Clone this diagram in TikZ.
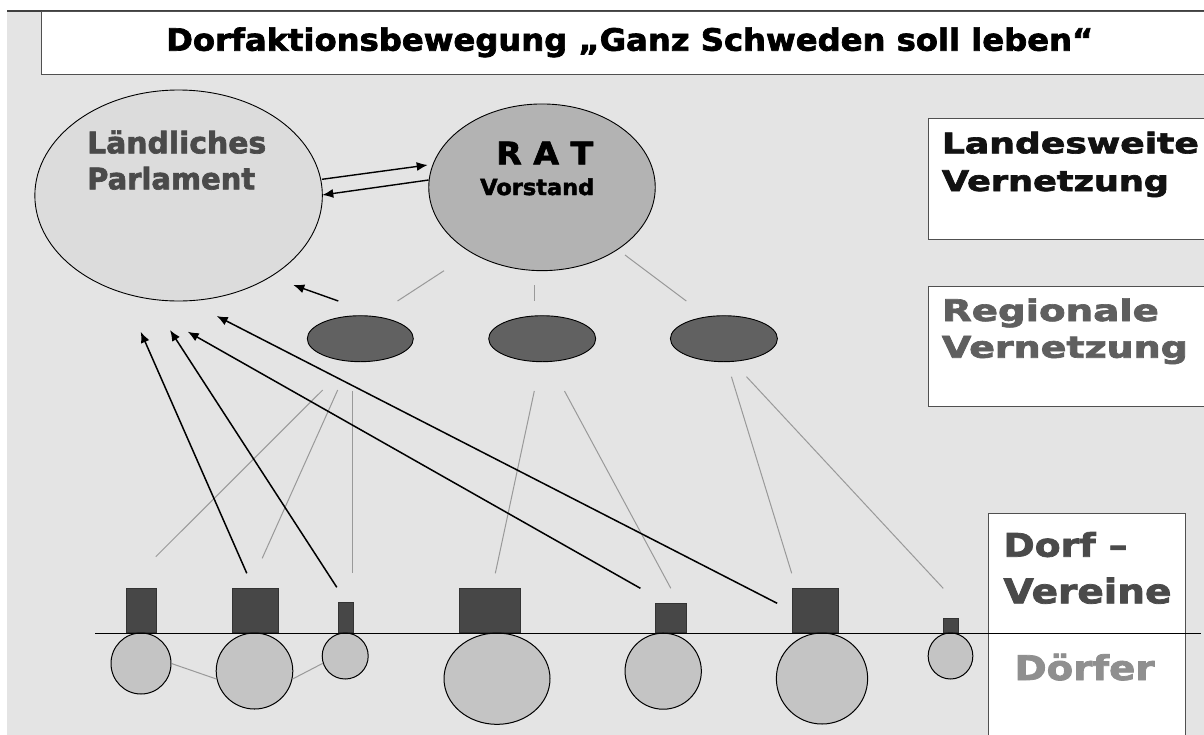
\documentclass[tikz,border=0pt]{standalone}
\usepackage{graphicx}
\usepackage{fontspec}
\setmainfont{DejaVu Sans}
\newfontfamily\heavyfont{DejaVu Sans Bold}[FakeBold=2.2]
\usetikzlibrary{shapes.geometric,arrows.meta}
\definecolor{bgc}{HTML}{E4E4E4}
\definecolor{parlc}{HTML}{DCDCDC}
\definecolor{ratc}{HTML}{B3B3B3}
\definecolor{regc}{HTML}{616161}
\definecolor{vboxc}{HTML}{474747}
\definecolor{dorfc}{HTML}{C4C4C4}
\definecolor{linec}{HTML}{999999}
\definecolor{frame}{HTML}{505050}
\definecolor{txtdark}{HTML}{4A4A4A}
\definecolor{txtreg}{HTML}{5F5F5F}
\definecolor{txtlight}{HTML}{8F8F8F}
\newbox\wtbox
\newcommand\wtext[3]{\begingroup\setbox\wtbox=\hbox{\heavyfont\fontsize{#2}{#2}\selectfont #3}%
\pgfmathsetmacro\wtratio{#1/\the\wd\wtbox}%
\scalebox{\wtratio}[1]{\usebox\wtbox}\endgroup}
\begin{document}
\begin{tikzpicture}[x=1pt,y=-1pt,
  labelbox/.style={draw=frame, fill=white, line width=1, inner sep=0, anchor=north west},
  oval/.style={ellipse, draw=black, line width=0.9, inner sep=0},
  dorf/.style={ellipse, draw=black, line width=1, fill=dorfc, inner sep=0},
  verein/.style={rectangle, draw=black!80, line width=0.6, fill=vboxc, inner sep=0, anchor=south west},
  txt/.style={anchor=base west, inner sep=0},
  thin/.style={draw=linec, line width=1},
  flow/.style={draw=black, line width=1.5, -{Latex[length=11pt,width=9pt]}}]
\useasboundingbox (0,0) rectangle (1204,734);
\clip (0,0) rectangle (1204,734);
\fill[bgc] (7,11) rectangle (1210,740);
\draw[line width=1.6, draw=black!75] (7,11) -- (1210,11);
% title
\node[labelbox, minimum width=1200, minimum height=63] (titlebox) at (40.5,11) {};
\node[txt] (title) at (166,50.7) {\wtext{927}{30.7}{Dorfaktionsbewegung „Ganz Schweden soll leben“}};
% right label boxes
\node[labelbox, minimum width=300, minimum height=120.7] (landesbox) at (927.7,118.3) {};
\node[labelbox, minimum width=300, minimum height=120.6] (regbox) at (927.7,285.7) {};
\node[labelbox, minimum width=196.7, minimum height=240] (dorfbox) at (988.3,512.7) {};
\node[txt, text=black!93] (landes1) at (941.7,153.3) {\wtext{257}{28.4}{Landesweite}};
\node[txt, text=black!93] (landes2) at (941.7,191) {\wtext{227}{28.4}{Vernetzung}};
\node[txt, text=txtreg] (reg1) at (941.7,321) {\wtext{217}{29.8}{Regionale}};
\node[txt, text=txtreg] (reg2) at (941.7,357.7) {\wtext{246}{29.8}{Vernetzung}};
\node[txt, text=txtdark] (dorf1) at (1003.3,556.7) {\wtext{124}{32.5}{Dorf –}};
\node[txt, text=txtdark] (dorf2) at (1003.3,603.3) {\wtext{168}{34}{Vereine}};
\node[txt, text=txtlight] (dorf3) at (1014.3,680) {\wtext{140}{34}{Dörfer}};
% big ellipses
\node[oval, fill=parlc, minimum width=287.5, minimum height=211] (parl) at (178.6,195.5) {};
\node[oval, fill=ratc, minimum width=226.5, minimum height=166.7] (rat) at (542,187.3) {};
\node[txt, text=txtdark] (parl1) at (87,153.3) {\wtext{179}{29.6}{Ländliches}};
\node[txt, text=txtdark] (parl2) at (87,189.3) {\wtext{168}{29.6}{Parlament}};
\node[txt, text=black] (rat1) at (496,164.3) {\wtext{97}{31}{R A T}};
\node[txt, text=black] (rat2) at (480,195) {\wtext{114}{22}{Vorstand}};
% regional ellipses
\node[oval, fill=regc, minimum width=106, minimum height=46] (e1) at (360.3,338.7) {};
\node[oval, fill=regc, minimum width=107, minimum height=46] (e2) at (542.2,338.7) {};
\node[oval, fill=regc, minimum width=107, minimum height=46] (e3) at (723.9,338.7) {};
% free line ends
\coordinate (r1a) at (444,270.7);   \coordinate (r1b) at (397.5,301);
\coordinate (r2a) at (534.4,285);   \coordinate (r2b) at (534.4,301);
\coordinate (r3a) at (625,255);     \coordinate (r3b) at (686.3,301);
\coordinate (g1a) at (322.7,390);   \coordinate (g1b) at (155.8,556.7);
\coordinate (g2a) at (337.7,390);   \coordinate (g2b) at (262.2,558.3);
\coordinate (g3a) at (352.7,391);   \coordinate (g3b) at (352.7,573.3);
\coordinate (g4a) at (534.3,391);   \coordinate (g4b) at (495.3,573.3);
\coordinate (g5a) at (564.5,391);   \coordinate (g5b) at (670.8,588.3);
\coordinate (g6a) at (731.4,376.7); \coordinate (g6b) at (791.7,573.3);
\coordinate (g7a) at (746.5,376.7); \coordinate (g7b) at (943.2,588.3);
\foreach \n in {r1,r2,r3,g1,g2,g3,g4,g5,g6,g7} \draw[thin] (\n a) -- (\n b);
% arrows between parliament and council
\coordinate (pr1) at (322,179.3);   \coordinate (pr2) at (427.7,165);
\coordinate (rp1) at (428.6,180);   \coordinate (rp2) at (322.3,195);
\draw[flow, line width=1.4] (pr1) -- (pr2);
\draw[flow, line width=1.4] (rp1) -- (rp2);
\coordinate (ep1) at (338.3,301);   \coordinate (ep2) at (293.3,285);
\draw[flow, line width=1.4] (ep1) -- (ep2);
% village association boxes
\node[verein, minimum width=30.5, minimum height=44.7] (b1) at (125.5,633) {};
\node[verein, minimum width=46, minimum height=44.7] (b2) at (231.5,633) {};
\node[verein, minimum width=15.3, minimum height=30.3] (b3) at (337.5,633) {};
\node[verein, minimum width=61.2, minimum height=44.7] (b4) at (458.5,633) {};
\node[verein, minimum width=31, minimum height=29.7] (b5) at (655,633) {};
\node[verein, minimum width=45.9, minimum height=44.7] (b6) at (791.8,633) {};
\node[verein, minimum width=15.4, minimum height=14.7] (b7) at (942.8,633) {};
% long arrows to parliament
\coordinate (a1) at (246.8,573.3); \coordinate (t1) at (140.7,331.7);
\coordinate (a2) at (336.8,587.3); \coordinate (t2) at (170,330);
\coordinate (a3) at (640.4,588.3); \coordinate (t3) at (187.7,331.7);
\coordinate (a4) at (777.2,603.3); \coordinate (t4) at (216.7,316);
\foreach \n in {1,2,3,4} \draw[flow] (a\n) -- (t\n);
% villages
\node[dorf, minimum width=60, minimum height=61] (c1) at (141,663.5) {};
\node[dorf, minimum width=76.6, minimum height=76] (c2) at (254.5,671) {};
\node[dorf, minimum width=46, minimum height=46] (c3) at (345.2,656) {};
\node[dorf, minimum width=106, minimum height=91.3] (c4) at (497,678.7) {};
\node[dorf, minimum width=76.3, minimum height=76] (c5) at (663.2,671.2) {};
\node[dorf, minimum width=91.3, minimum height=91] (c6) at (822,678.5) {};
\node[dorf, minimum width=44.7, minimum height=46] (c7) at (950.5,656) {};
\draw[thin] (c1.0) -- (c2.192);
\draw[thin] (c2.348) -- (c3.198);
% ground line
\coordinate (gl) at (95,633.3); \coordinate (gr) at (1201,633.3);
\draw[line width=1.3, draw=black] (gl) -- (gr);
\end{tikzpicture}
\end{document}
